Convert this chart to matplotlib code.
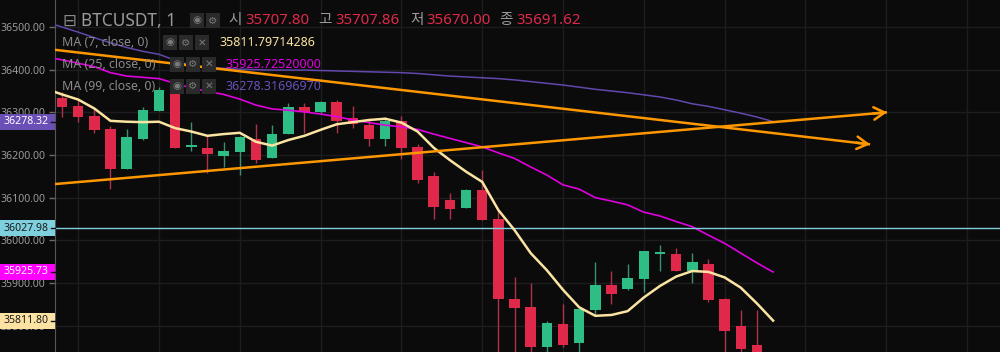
import matplotlib
matplotlib.use('Agg')
import matplotlib.pyplot as plt
import numpy as np
from matplotlib.patches import Rectangle

# ---------------- data ----------------
opens = [36334, 36315, 36291, 36261, 36167, 36237, 36304, 36352, 36219, 36216,
         36198, 36208, 36237, 36194, 36250, 36312, 36301, 36324, 36287, 36270,
         36237, 36280, 36218, 36151, 36094, 36076, 36118, 36050, 35862, 35844,
         35750, 35804, 35759, 35837, 35895, 35886, 35909, 35969, 35968, 35928,
         35944, 35862, 35799, 35755, 35707.80]
highs = [36347, 36329, 36309, 36269, 36261, 36313, 36360, 36356, 36277, 36244,
         36230, 36245, 36273, 36270, 36323, 36323, 36327, 36329, 36315, 36286,
         36288, 36291, 36225, 36160, 36111, 36120, 36165, 36071, 35914, 35900,
         35811, 35851, 35842, 35949, 35928, 35944, 35975, 35989, 35982, 35970,
         35956, 35865, 35836, 35836, 35707.86]
lows = [36290, 36278, 36252, 36120, 36166, 36236, 36304, 36216, 36210, 36158,
        36172, 36153, 36182, 36193, 36249, 36252, 36296, 36252, 36264, 36221,
        36221, 36190, 36135, 36050, 36050, 36075, 36048, 35720, 35725, 35735,
        35730, 35750, 35730, 35825, 35851, 35884, 35879, 35928, 35928, 35900,
        35855, 35720, 35730, 35700, 35670.00]
closes = [36313, 36290, 36259, 36168, 36242, 36305, 36352, 36217, 36223, 36203,
          36209, 36242, 36189, 36249, 36312, 36301, 36324, 36280, 36273, 36237,
          36280, 36216, 36142, 36079, 36073, 36118, 36048, 35862, 35841, 35750,
          35806, 35755, 35839, 35895, 35874, 35912, 35975, 35973, 35928, 35949,
          35860, 35787, 35745, 35720, 35691.62]

# moving averages; they begin one bar before the first candle
ma_start = -1
ma7 = [36355, 36342, 36330, 36309, 36280, 36278, 36277, 36278, 36263, 36255, 36245,
       36249, 36252, 36231, 36222, 36235, 36245, 36259, 36272, 36277, 36282,
       36285, 36276, 36255, 36217, 36188, 36161, 36137, 36071, 36024, 35970,
       35930, 35884, 35843, 35823, 35825, 35834, 35866, 35893, 35915, 35928,
       35926, 35913, 35889, 35852, 35811.80]
ma25 = [36430, 36423, 36415, 36407, 36393, 36385, 36382, 36379, 36368, 36357, 36349,
        36342, 36331, 36317, 36308, 36305, 36301, 36296, 36290, 36282, 36276,
        36270, 36266, 36260, 36249, 36239, 36229, 36219, 36205, 36192, 36172,
        36153, 36130, 36120, 36100, 36092, 36083, 36066, 36057, 36044, 36032,
        36012, 35993, 35970, 35947, 35925.73]
ma99 = [36512, 36500, 36488, 36475, 36463, 36452, 36443, 36436, 36422, 36410, 36405,
        36403, 36401, 36400, 36399, 36399, 36399, 36398, 36397, 36396, 36395,
        36394, 36393, 36391, 36388, 36385, 36383, 36381, 36379, 36376, 36372,
        36368, 36364, 36359, 36354, 36350, 36346, 36341, 36336, 36329, 36320,
        36314, 36306, 36298, 36289, 36278.32]

# trend lines: (bar index, price) of start and end (end carries an arrow head)
trend_down = [(-1, 36449), (50.0, 36225)]
trend_up = [(-1, 36130), (51.05, 36300)]

last_price = 36027.98
y_ticks = [35800, 35900, 36000, 36100, 36200, 36300, 36400, 36500]
legend_ohlc = ['35707.80', '35707.86', '35670.00', '35691.62']
legend_ohlc_names = ['시', '고', '저', '종']
ma_names = ['MA (7, close, 0)', 'MA (25, close, 0)', 'MA (99, close, 0)']
ma_values = ['35811.79714286', '35925.72520000', '36278.31696970']

# ---------------- style ----------------
BG = '#0b0b0b'
GRID = '#1d1d1f'
RED = '#e0294a'
GREEN = '#2ebd85'
C7 = '#fbe4a2'
C25 = '#e000e0'
C99 = '#6248ad'
ORANGE = '#ff9800'
CYAN = '#7fd0df'
TXT = '#9a9a9a'

plt.rcParams['font.family'] = ['Noto Sans', 'Noto Sans CJK KR', 'DejaVu Sans']

W, H = 1000, 352
fig = plt.figure(figsize=(W / 100, H / 100), dpi=100, facecolor=BG)
ax_left = 55
ax = fig.add_axes([ax_left / W, 0, 1 - ax_left / W, 1], facecolor=BG)

ymin, ymax = 35738.2, 36563.3
ax.set_ylim(ymin, ymax)
ax.set_xlim(-0.433, 58.04)
px = (ymax - ymin) / H   # price units per pixel

# grid
ax.set_xticks(np.arange(1, 58, 5))
ax.set_yticks(y_ticks)
ax.set_yticklabels([f'{v:.2f}' for v in y_ticks])
ax.grid(True, color=GRID, lw=1, zorder=0)
ax.set_axisbelow(True)
ax.tick_params(axis='x', length=0, labelbottom=False)
ax.tick_params(axis='y', colors='#6a6a6a', labelcolor=TXT, length=4, width=1,
               labelsize=7.6, pad=3)
for s in ['top', 'right', 'bottom']:
    ax.spines[s].set_visible(False)
ax.spines['left'].set_color('#555555')

# candles
x = np.arange(len(opens))
o = np.array(opens); c = np.array(closes)
cols = [GREEN if cc >= oo else RED for oo, cc in zip(o, c)]
wick_cols = ['#3a8f6c' if cc >= oo else '#b0324a' for oo, cc in zip(o, c)]
ax.vlines(x, lows, highs, colors=wick_cols, lw=1, zorder=3)
ax.bar(x, np.maximum(np.abs(c - o), px * 1.5), bottom=np.minimum(o, c), width=0.65,
       color=cols, linewidth=0, zorder=4)

# moving averages
xm = np.arange(len(ma7)) + ma_start
ax.plot(xm, ma99, color=C99, lw=1.1, zorder=5)
ax.plot(xm, ma25, color=C25, lw=1.2, zorder=5)
ax.plot(xm, ma7, color=C7, lw=1.8, zorder=6)

# current price line
ax.axhline(last_price, color=CYAN, lw=1, zorder=5)

# trend lines with arrows
for (x0, y0), (x1, y1) in [trend_down, trend_up]:
    ax.plot([x0, x1], [y0, y1], color=ORANGE, lw=1.8, zorder=7, solid_capstyle='butt')
    dx = (x1 - x0) / 60.0
    dy = (y1 - y0) / 60.0
    ax.annotate('', xy=(x1, y1), xytext=(x1 - dx, y1 - dy),
                arrowprops=dict(arrowstyle='->,head_length=0.55,head_width=0.32',
                                color=ORANGE, lw=1.8, shrinkA=0, shrinkB=0,
                                mutation_scale=14),
                zorder=8)

# price labels on the axis
ytr = ax.get_yaxis_transform()
aw = W - ax_left
box_w = ax_left / aw
for val, bg, fg in [(ma99[-1], '#6a4fb6', 'white'), (last_price, CYAN, '#1a1a1a'),
                    (ma25[-1], '#ff00ff', 'white'), (ma7[-1], '#fde3a3', '#1a1a1a')]:
    ax.add_patch(Rectangle((-box_w, val - 8 * px), box_w, 16 * px, transform=ytr,
                           facecolor=bg, edgecolor='none', clip_on=False, zorder=20))
    ax.plot([-4 / aw, 0], [val, val], transform=ytr, color='#111111',
            lw=1, clip_on=False, zorder=21)
    ax.text(-box_w + 3 / aw, val, f'{val:.2f}', transform=ytr, ha='left',
            va='center', fontsize=7.6, color=fg, zorder=22, clip_on=False)

# ---------------- legend ----------------
def fx(p):
    return p / W

def fy(p):
    return 1 - p / H

def icon_boxes(x0, yc, n, syms):
    for k in range(n):
        xb = x0 + k * 16
        fig.add_artist(Rectangle((fx(xb), fy(yc + 7.5)), 14 / W, 15 / H,
                                 transform=fig.transFigure, facecolor='#2a2a2a',
                                 edgecolor='none', zorder=30))
        fig.text(fx(xb + 7), fy(yc), syms[k], ha='center', va='center', fontsize=7.5,
                 color='#7a7a7a', family='DejaVu Sans', zorder=31)

# title row
fig.text(fx(62), fy(20.5), '⊟', fontsize=12, color='#8a8a8a', va='center',
         family='DejaVu Sans')
fig.text(fx(81), fy(20.5), 'BTCUSDT, 1', fontsize=12.5, color=TXT, va='center')
icon_boxes(190, 20.5, 2, ['◉', '⚙'])
xs_name = [228, 318, 410, 499]
xs_val = [245, 335, 426, 516]
for nm, v, xn, xv in zip(legend_ohlc_names, legend_ohlc, xs_name, xs_val):
    fig.text(fx(xn), fy(20.5), nm, fontsize=10.5, color=TXT, va='center')
    fig.text(fx(xv), fy(20.5), v, fontsize=10.8, color=RED, va='center')

rows_y = [42.5, 64, 86]
icon_x = [163, 170, 170]
val_x = [219, 226, 226]
val_col = [C7, C25, '#6a50b8']
for nm, v, yy, ix, vx, vc in zip(ma_names, ma_values, rows_y, icon_x, val_x, val_col):
    fig.text(fx(62), fy(yy), nm, fontsize=8.9, color='#8a8a8a', va='center')
    icon_boxes(ix, yy, 3, ['◉', '⚙', '✕'])
    fig.text(fx(vx), fy(yy), v, fontsize=9.0, color=vc, va='center')

fig.savefig('out.png', dpi=100, facecolor=BG)
